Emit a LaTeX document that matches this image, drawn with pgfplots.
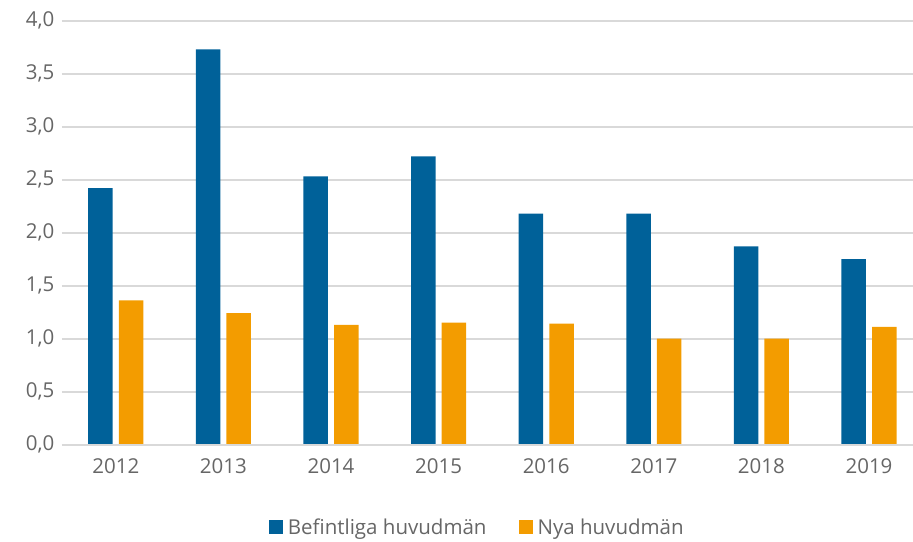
\documentclass[border=0pt]{standalone}
\usepackage{fontspec}
\setmainfont{Open Sans}
\usepackage{pgfplots}
\pgfplotsset{compat=1.18}
\definecolor{befblue}{HTML}{006199}
\definecolor{nyaorange}{HTML}{F39C00}
\definecolor{gridgray}{HTML}{D9D9D9}
\definecolor{txtgray}{HTML}{666666}
\begin{document}
\begin{tikzpicture}
\useasboundingbox (-62pt,-96.5pt) rectangle (851pt,444.5pt);
\begin{axis}[
  at={(0,0)}, anchor=south west,
  scale only axis,
  width=851pt, height=423.8pt,
  ybar,
  bar width=24.5pt,
  xmin=-0.5, xmax=7.409,
  ymin=0, ymax=4,
  ytick={0,0.5,...,4},
  xtick={0,...,7},
  xticklabels={2012,2013,2014,2015,2016,2017,2018,2019},
  axis line style={draw=none},
  axis x line*=bottom,
  major tick length=0pt,
  ymajorgrids=true,
  grid style={gridgray, line width=2pt},
  tick label style={font=\fontsize{20.5}{24}\selectfont, text=txtgray},
  /pgf/number format/assume math mode=true,
  yticklabel style={/pgf/number format/fixed, /pgf/number format/zerofill,
    /pgf/number format/precision=1, /pgf/number format/use comma, xshift=-4pt},
  xticklabel style={yshift=-11pt},
  legend style={draw=none, fill=none, at={(0.488,0)}, anchor=center,
    yshift=-82.5pt, font=\fontsize{20.5}{24}\selectfont, text=txtgray,
    /tikz/every odd column/.append style={column sep=3pt},
    /tikz/every even column/.append style={column sep=30pt}},
  legend columns=2,
  legend image code/.code={\fill[#1] (0pt,-7pt) rectangle (14pt,7pt);},
]
\addplot[fill=befblue, draw=none, bar shift=-15.3pt] coordinates {
  (0,2.42) (1,3.73) (2,2.53) (3,2.72) (4,2.18) (5,2.18) (6,1.87) (7,1.75)
};
\addplot[fill=nyaorange, draw=none, bar shift=15.3pt] coordinates {
  (0,1.36) (1,1.24) (2,1.13) (3,1.15) (4,1.14) (5,1.00) (6,1.00) (7,1.11)
};
\legend{Befintliga huvudmän, Nya huvudmän}
\draw[gridgray, line width=2pt] (axis cs:-0.5,0) -- (axis cs:7.409,0);
\end{axis}
\end{tikzpicture}
\end{document}
